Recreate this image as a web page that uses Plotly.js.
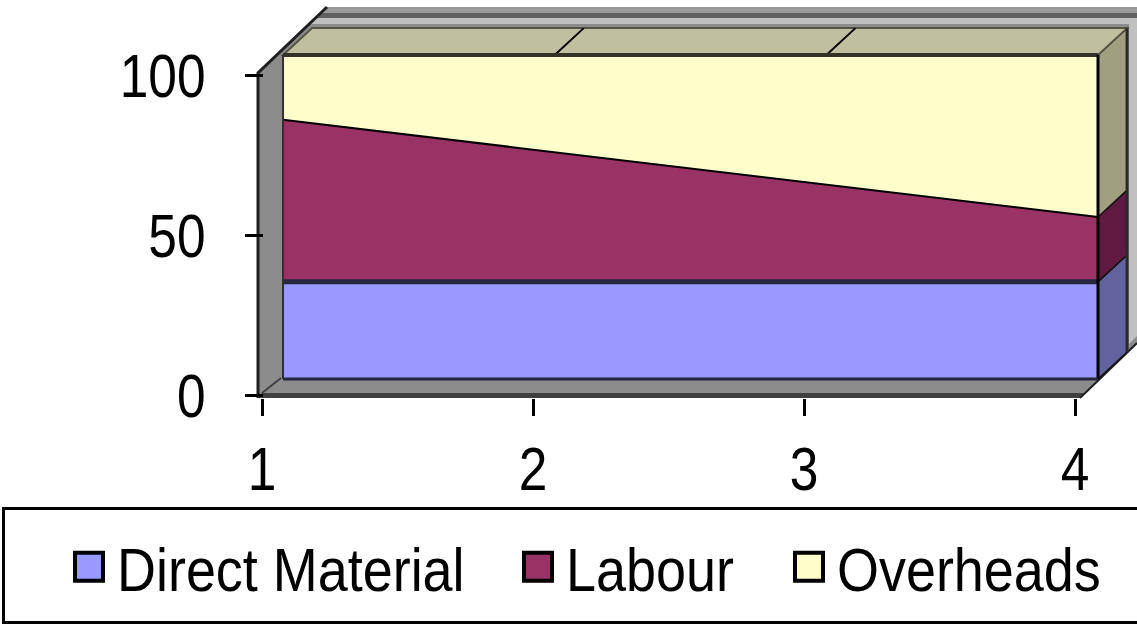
<!DOCTYPE html>
<html><head><meta charset="utf-8">
<script src="https://cdn.plot.ly/plotly-3.0.1.min.js"></script>
<style>html,body{margin:0;padding:0;background:#fff;overflow:hidden;} #chart{width:1137px;height:625px;}</style>
</head><body><div id="chart"></div>
<script>
// ---- data ----
const categories = [1, 2, 3, 4];
const directMaterial = [30, 30, 30, 30];
const labour = [50, 40, 30, 20];
const overheads = [20, 30, 40, 50];
const seriesNames = ['Direct Material', 'Labour', 'Overheads'];
const yTickVals = [0, 50, 100];
const xTickVals = categories;

// ---- styles ----
const frontColors = ['#9999FF', '#993366', '#FFFFCC'];
const sideColors = ['#62629E', '#5E1A40', '#A0A080'];
const topLineColors = ['#262640', '#000000', '#333328'];
const topLineWidths = [5, 2, 4];
const FONT = 'Liberation Sans, Arial, sans-serif';
const W = 1137, H = 625;
const px = v => v / W, py = v => 1 - v / H;
const DX = 0.107, DY = 8.3; // depth of the 3D slab in data units

const series = [directMaterial, labour, overheads];
const n = categories.length;
const traces = [];
const shapes = [];

// stacked totals
const stacks = [];
let prev = categories.map(() => 0);
series.forEach(s => {
  const top = prev.map((v, i) => v + s[i]);
  stacks.push({bottom: prev, top: top});
  prev = top;
});
const totals = prev;

// ---- frame (walls / floor), paper coords ----
const pp = pts => 'M' + pts.map(p => px(p[0]) + ',' + py(p[1])).join('L') + 'Z';
shapes.push({type:'path', xref:'paper', yref:'paper', layer:'below', line:{width:0},
  fillcolor:'#8C8C8C', path: pp([[257,398],[257,73],[327,7],[1137,7],[1137,343],[1080,398]])});
shapes.push({type:'path', xref:'paper', yref:'paper', layer:'below', line:{width:0},
  fillcolor:'#999999', path: pp([[327,7],[1137,7],[1137,13],[321,13]])});
shapes.push({type:'path', xref:'paper', yref:'paper', layer:'below', line:{width:0},
  fillcolor:'#606060', path: pp([[321,13],[1137,13],[1137,18],[316,18]])});
shapes.push({type:'path', xref:'paper', yref:'paper', layer:'below', line:{width:0},
  fillcolor:'#C0C0C0', path: pp([[316,18],[1137,18],[1137,24],[310,24]])});
shapes.push({type:'path', xref:'paper', yref:'paper', layer:'below', line:{width:0},
  fillcolor:'#C0C0C0', path: pp([[1129,24],[1137,24],[1137,336],[1129,344]])});
shapes.push({type:'path', xref:'paper', yref:'paper', layer:'below', line:{width:0},
  fillcolor:'#404040', path: pp([[262,393],[1085,393],[1080,398],[257,398]])});
shapes.push({type:'path', xref:'paper', yref:'paper', layer:'below', line:{color:'#202020', width:3},
  path: 'M' + px(258) + ',' + py(398) + 'L' + px(258) + ',' + py(73) + 'L' + px(327) + ',' + py(7)});
shapes.push({type:'line', xref:'paper', yref:'paper', layer:'below', line:{color:'#404040', width:2},
  x0:px(262), y0:py(393), x1:px(281), y1:py(378)});
shapes.push({type:'line', xref:'paper', yref:'paper', layer:'below', line:{color:'#202020', width:2},
  x0:px(1080), y0:py(398), x1:px(1137), y1:py(343)});

// legend frame
shapes.push({type:'rect', xref:'paper', yref:'paper', layer:'below', line:{color:'#000', width:3},
  fillcolor:'#FFFFFF', x0:px(3.5), x1:px(1145), y0:py(622.5), y1:py(508.5)});

// ---- 3D slab faces, data coords ----
const cl = categories[n - 1];
stacks.forEach((st, i) => {
  shapes.push({type:'path', xref:'x', yref:'y', layer:'below', fillcolor: sideColors[i],
    line:{color:'#151515', width:1.5},
    path: 'M' + cl + ',' + st.bottom[n-1] + 'L' + cl + ',' + st.top[n-1] +
          'L' + (cl + DX) + ',' + (st.top[n-1] + DY) + 'L' + (cl + DX) + ',' + (st.bottom[n-1] + DY) + 'Z'});
});
// top face of the upper series
let topPath = 'M' + categories.map((c, i) => c + ',' + totals[i]).join('L');
topPath += 'L' + categories.slice().reverse().map((c, k) => (c + DX) + ',' + (totals[n - 1 - k] + DY)).join('L') + 'Z';
shapes.push({type:'path', xref:'x', yref:'y', layer:'below', fillcolor:'#C0C0A0',
  line:{color:'#555545', width:2}, path: topPath});
// category gridlines across the top face
categories.slice(1, n - 1).forEach((c, k) => {
  const t = totals[k + 1];
  shapes.push({type:'line', xref:'x', yref:'y', layer:'below', line:{color:'#000', width:2},
    x0:c, y0:t, x1:c + DX, y1:t + DY});
});
// back vertical edge of the side face
shapes.push({type:'line', xref:'x', yref:'y', layer:'below', line:{color:'#2a2a2a', width:3},
  x0:cl + DX, y0:DY, x1:cl + DX, y1:totals[n-1] + DY});
// front edges
shapes.push({type:'line', xref:'x', yref:'y', layer:'above', line:{color:'#000', width:3},
  x0:cl, y0:0, x1:cl, y1:totals[n-1]});
shapes.push({type:'line', xref:'x', yref:'y', layer:'above', line:{color:'#262640', width:3},
  x0:categories[0], y0:0, x1:cl, y1:0});
shapes.push({type:'line', xref:'x', yref:'y', layer:'above', line:{color:'#303030', width:2},
  x0:categories[0], y0:0, x1:categories[0], y1:totals[0]});

// ---- front face: stacked areas ----
series.forEach((s, i) => {
  traces.push({type:'scatter', x: categories, y: s, name: seriesNames[i], stackgroup:'one',
    mode:'lines', line:{color: topLineColors[i], width: topLineWidths[i]},
    fillcolor: frontColors[i], showlegend:false, hoverinfo:'skip'});
});

// axis carrier for visible ticks
traces.push({type:'scatter', x:[categories[0], categories[n-1]], y:[yTickVals[0], yTickVals[yTickVals.length-1]],
  xaxis:'x2', yaxis:'y2', mode:'markers', marker:{opacity:0}, showlegend:false, hoverinfo:'skip'});

// legend entries
series.forEach((s, i) => {
  traces.push({type:'scatter', x:[null], y:[null], name: seriesNames[i], mode:'markers',
    marker:{symbol:'square', size:16, color: frontColors[i], line:{color:'#000', width:2.3}},
    legend: i === 0 ? 'legend' : 'legend' + (i + 1), showlegend:true, hoverinfo:'skip'});
});

const legendBase = {y: py(567), xanchor:'left', yanchor:'middle', orientation:'h',
  font:{size:62, family: FONT, color:'#000'}, bgcolor:'rgba(0,0,0,0)', borderwidth:0,
  itemwidth:46, entrywidthmode:'pixels'};

const layout = {
  width: W, height: H,
  margin:{l:0, r:0, t:0, b:0, pad:0, autoexpand:false},
  paper_bgcolor:'#FFFFFF', plot_bgcolor:'rgba(0,0,0,0)',
  font:{family: FONT, size:62, color:'#000'},
  showlegend:true,
  xaxis:{domain:[px(277.6), px(1130.6)], range:[0.98, 4.12], visible:false, fixedrange:true},
  yaxis:{domain:[py(385.5), py(22.6)], range:[-2, 110], visible:false, fixedrange:true},
  xaxis2:{domain:[px(262), px(1075)], range:[1, 4], anchor:'free', position: py(398),
    tickvals: xTickVals, ticks:'outside', ticklen:17, tickwidth:3, tickcolor:'#000',
    showgrid:false, zeroline:false, showline:false, tickfont:{size:62, family: FONT}},
  yaxis2:{domain:[py(395), py(75)], range:[0, 100], anchor:'free', position: px(263),
    tickvals: yTickVals, ticks:'outside', ticklen:18, tickwidth:3, tickcolor:'#000',
    ticklabelstandoff: 27,
    showgrid:false, zeroline:false, showline:false, tickfont:{size:62, family: FONT}},
  legend: Object.assign({}, legendBase, {x: px(61), entrywidth: 352}),
  legend2: Object.assign({}, legendBase, {x: px(510), entrywidth: 180}),
  legend3: Object.assign({}, legendBase, {x: px(781), entrywidth: 296}),
  shapes: shapes
};

// narrow the Arial-like glyphs horizontally, as in the original export (idempotent)
function narrowText(root, selector, s) {
  root.querySelectorAll(selector).forEach(t => {
    const tr = t.getAttribute('transform') || '';
    if (tr.indexOf('scale(') !== -1) return;
    const bb = t.getBBox();
    if (!bb.width) return;
    const anchor = t.getAttribute('text-anchor') || 'start';
    const ax = anchor === 'end' ? bb.x + bb.width : (anchor === 'middle' ? bb.x + bb.width / 2 : bb.x);
    t.setAttribute('transform', tr + ' translate(' + ax + ',0) scale(' + s + ',1) translate(' + (-ax) + ',0)');
  });
}
function enlargeLegendSymbols(root) {
  root.querySelectorAll('.legendpoints path.scatterpts').forEach(p => {
    const tr = p.getAttribute('transform') || '';
    if (tr.indexOf('scale(') !== -1) return;
    p.setAttribute('transform', tr + ' scale(1.75)');
  });
}
const gdDiv = document.getElementById('chart');
function finish() {
  narrowText(gdDiv, '.x2tick text, .y2tick text', 0.83);
  narrowText(gdDiv, 'text.legendtext, text.legend2text, text.legend3text', 0.87);
  enlargeLegendSymbols(gdDiv);
}
const observer = new MutationObserver(() => finish());
observer.observe(gdDiv, {subtree:true, childList:true, attributes:true, attributeFilter:['transform', 'x', 'y', 'd']});

Plotly.newPlot(gdDiv, traces, layout, {displayModeBar:false, staticPlot:true}).then(() => {
  finish();
  setTimeout(finish, 0);
  setTimeout(finish, 100);
});
finish();
</script>
</body></html>
